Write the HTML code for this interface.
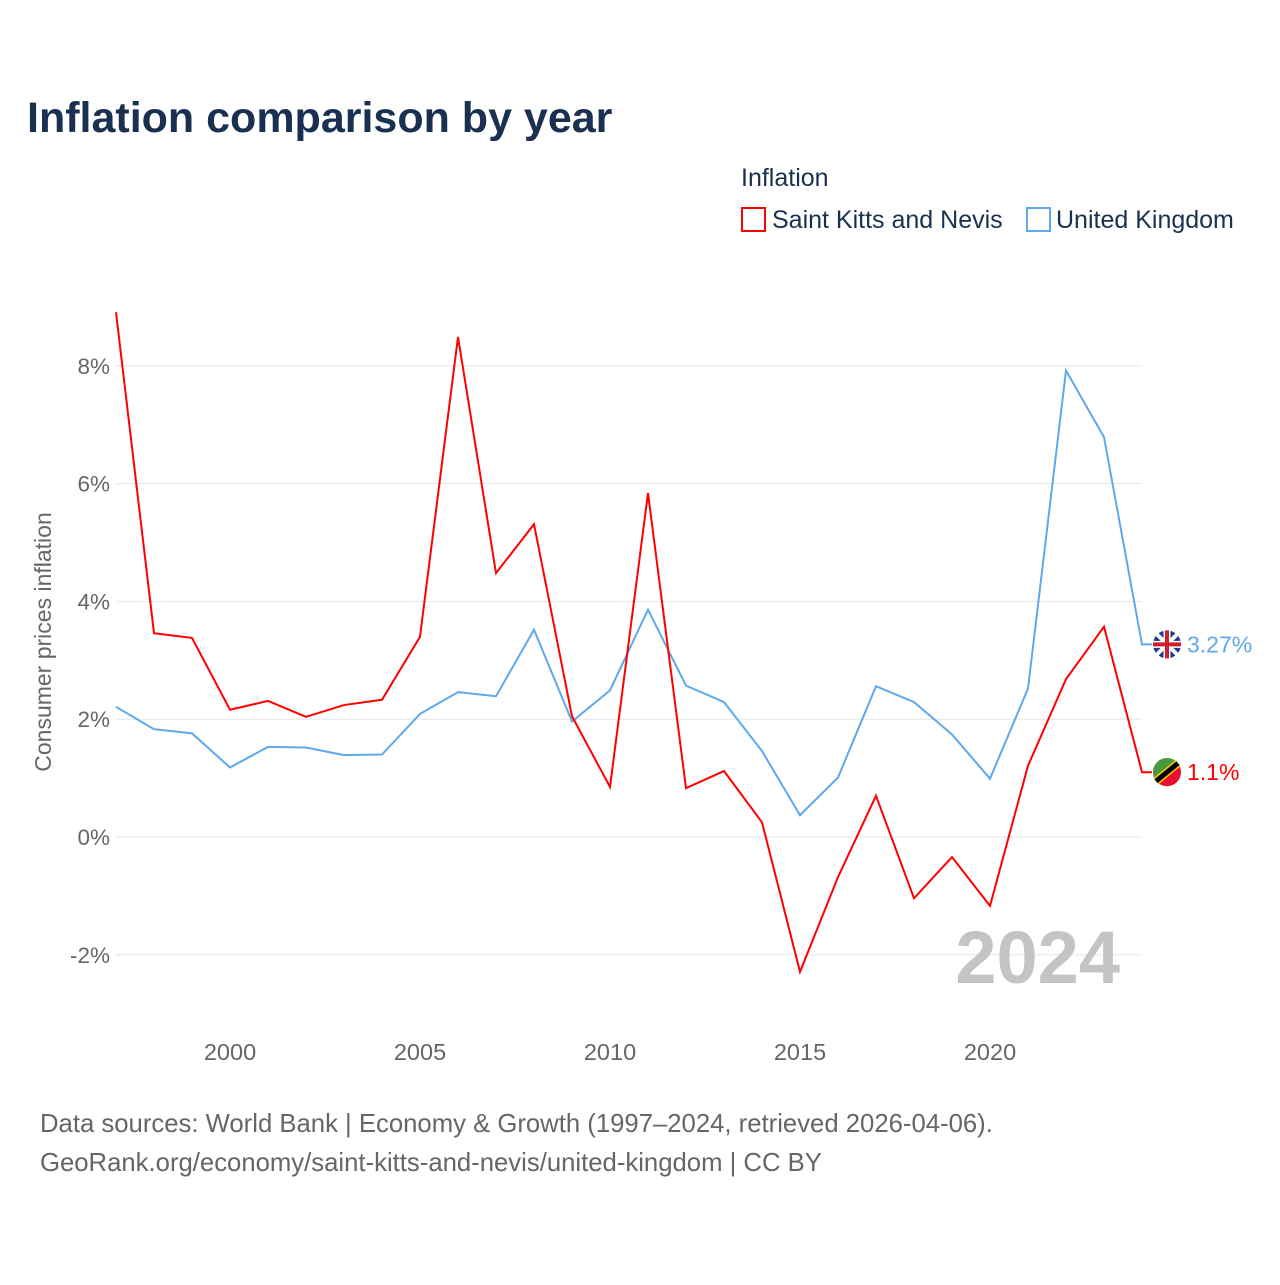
<!DOCTYPE html>
<html><head><meta charset="utf-8"><style>
body{margin:0;background:#fff;font-family:"Liberation Sans",sans-serif}
svg text{font-family:"Liberation Sans",sans-serif}
</style></head><body>
<svg id="c" width="1280" height="1280" viewBox="0 0 1280 1280">
<text x="27" y="132" font-size="43" font-weight="bold" fill="#1a3050">Inflation comparison by year</text>
<g>
<text x="741" y="186" font-size="25" fill="#1a3050">Inflation</text>
<g><rect x="742" y="208" width="23" height="23" fill="none" stroke="#f00" stroke-width="2"/><text x="772" y="228" font-size="25" fill="#1a3050">Saint Kitts and Nevis</text></g>
<g><rect x="1027" y="208" width="23" height="23" fill="none" stroke="#5ea8ec" stroke-width="2"/><text x="1056" y="228" font-size="25" fill="#1a3050">United Kingdom</text></g>
</g>
<text transform="translate(51,642) rotate(-90)" text-anchor="middle" font-size="23" fill="#666">Consumer prices inflation</text>
<g id="grid"></g><g id="xt"></g>
<text x="1120" y="983" text-anchor="end" font-size="74" font-weight="bold" fill="#c4c4c4">2024</text>
<g id="lines"></g>
<text x="40" y="1132" font-size="25.7" fill="#666">Data sources: World Bank | Economy &amp; Growth (1997–2024, retrieved 2026-04-06).</text>
<text x="40" y="1171" font-size="25.7" fill="#666">GeoRank.org/economy/saint-kitts-and-nevis/united-kingdom | CC BY</text>
</svg>
<script>
const years=[1997,1998,1999,2000,2001,2002,2003,2004,2005,2006,2007,2008,2009,2010,2011,2012,2013,2014,2015,2016,2017,2018,2019,2020,2021,2022,2023,2024];
const sknValues=[8.91,3.46,3.38,2.16,2.31,2.04,2.24,2.33,3.40,8.49,4.48,5.31,2.05,0.85,5.84,0.83,1.12,0.25,-2.29,-0.68,0.70,-1.04,-0.34,-1.17,1.21,2.68,3.57,1.10];
const ukValues=[2.21,1.83,1.76,1.18,1.53,1.52,1.39,1.40,2.09,2.46,2.39,3.52,1.96,2.49,3.86,2.57,2.29,1.46,0.37,1.01,2.56,2.29,1.74,0.99,2.52,7.92,6.79,3.27];
const yTicks=[-2,0,2,4,6,8];
const xTicks=[2000,2005,2010,2015,2020];
const NS="http://www.w3.org/2000/svg";
const X=y=>116+(y-1997)*38;
const Y=v=>837-v*58.9;
function mk(t,a,p){const e=document.createElementNS(NS,t);for(const k in a)e.setAttribute(k,a[k]);p.appendChild(e);return e;}
const g=document.getElementById('grid');
yTicks.forEach(t=>{
 const l=mk('line',{x1:116,x2:1142,y1:Y(t),y2:Y(t),stroke:'#e6e6e6','stroke-width':1},g);
 
 
 const tx=mk('text',{x:110,y:Y(t)+8,'text-anchor':'end','font-size':22.5,fill:'#666'},g);
 tx.textContent=t+'%';
 
 
});
const xt=document.getElementById('xt');
xTicks.forEach(t=>{
 const tx=mk('text',{x:X(t),y:1060,'text-anchor':'middle','font-size':23.5,fill:'#666'},xt);
 tx.textContent=t;
 
 
});
const L=document.getElementById('lines');
function series(vals,col,name,label,flag){
 const pts=vals.map((v,i)=>X(years[i])+','+Y(v));
 const last=vals[vals.length-1];
 pts.push((X(years[years.length-1])+10)+','+Y(last));
 const p=mk('polyline',{points:pts.join(' '),fill:'none',stroke:col,'stroke-width':2},L);
 
 
 const cy=Y(last);
 const fg=mk('g',{},L);
 
 
 if(flag==='uk'){
  mk('circle',{cx:1167,cy:cy,r:14,fill:'#1f3b8c'},fg);
  mk('line',{x1:1157,y1:cy-10,x2:1177,y2:cy+10,stroke:'#fff','stroke-width':4},fg);
  mk('line',{x1:1157,y1:cy+10,x2:1177,y2:cy-10,stroke:'#fff','stroke-width':4},fg);
  mk('line',{x1:1153,y1:cy,x2:1181,y2:cy,stroke:'#fff','stroke-width':7},fg);
  mk('line',{x1:1167,y1:cy-14,x2:1167,y2:cy+14,stroke:'#fff','stroke-width':7},fg);
  mk('line',{x1:1153,y1:cy,x2:1181,y2:cy,stroke:'#d0202e','stroke-width':4},fg);
  mk('line',{x1:1167,y1:cy-14,x2:1167,y2:cy+14,stroke:'#d0202e','stroke-width':4},fg);
 } else {
  mk('circle',{cx:1167,cy:cy,r:14,fill:'#e8112d'},fg);
  mk('path',{d:`M1153 ${cy} A14 14 0 0 1 1177 ${cy-10} L1155 ${cy+8} Z`,fill:'#4a9a3c'},fg);
  mk('line',{x1:1156,y1:cy+9,x2:1178,y2:cy-9,stroke:'#fcd116','stroke-width':8},fg);
  mk('line',{x1:1156,y1:cy+9,x2:1178,y2:cy-9,stroke:'#000','stroke-width':5},fg);
 }
 const t=mk('text',{x:1187,y:cy+8,'font-size':23,fill:col},L);
 t.textContent=label;
 
 
}
series(ukValues,'#5ea8ec','uk','3.27%','uk');
series(sknValues,'#f00','skn','1.1%','skn');
</script>
</body></html>
